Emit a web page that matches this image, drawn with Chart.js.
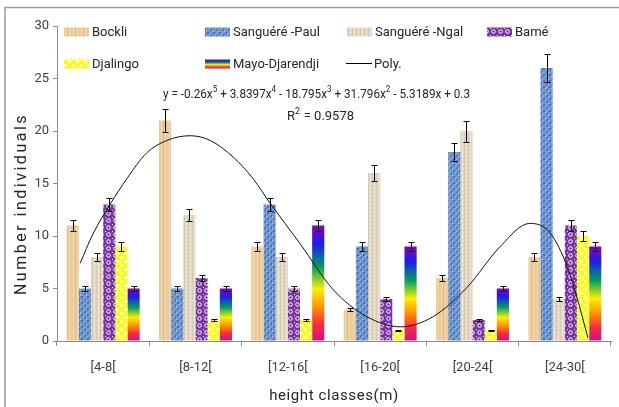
<!DOCTYPE html>
<html>
<head>
<meta charset="utf-8">
<script src="https://cdn.jsdelivr.net/npm/chart.js@4.4.0/dist/chart.umd.min.js"></script>
<style>
  html, body { margin: 0; padding: 0; background: #fff; }
  #wrap { width: 619px; height: 407px; position: relative; }
</style>
</head>
<body>
<div id="wrap"><canvas id="myChart" width="619" height="407"></canvas></div>
<script>
// data
var categories = ['[4-8[', '[8-12[', '[12-16[', '[16-20[', '[20-24[', '[24-30['];

var bockli   = [11, 21, 9, 3, 6, 8];
var sPaul    = [5, 5, 13, 9, 18, 26];
var sNgal    = [8, 12, 8, 16, 20, 4];
var bame     = [13, 6, 5, 4, 2, 11];
var djalingo = [9, 2, 2, 1, 1, 10];
var mayo     = [5, 5, 11, 9, 5, 9];

// error bar half-heights
var bockliErr   = [0.55, 1.05, 0.45, 0.15, 0.3, 0.4];
var sPaulErr    = [0.25, 0.25, 0.65, 0.45, 0.9, 1.3];
var sNgalErr    = [0.4, 0.6, 0.4, 0.8, 1.0, 0.2];
var bameErr     = [0.65, 0.3, 0.25, 0.2, 0.1, 0.55];
var djalingoErr = [0.45, 0.1, 0.1, 0.05, 0.05, 0.5];
var mayoErr     = [0.25, 0.25, 0.55, 0.45, 0.25, 0.45];

// polynomial trend line
// x in category index units (0 = centre of first class, -0.5 = y axis)
var polyX = [-0.25, -0.11, 0.07, 0.26, 0.47, 0.69, 0.94, 1.16, 1.41, 1.62, 1.81, 2.13, 2.49, 2.86, 3.22, 3.57, 3.94, 4.3, 4.62, 4.84, 5.03, 5.13, 5.25];
var polyY = [7.4, 10.2, 12.95, 15.5, 17.9, 19.1, 19.55, 19.1, 17.5, 15.5, 13.1, 9.3, 4.9, 2.3, 1.35, 2.3, 5.1, 9.0, 11.2, 10.3, 7.0, 4.2, 0.3];

var FONT = "'Liberation Sans Narrow', 'Roboto', sans-serif";

function makePattern(w, h, draw) {
	var c = document.createElement('canvas');
	c.width = w; c.height = h;
	var g = c.getContext('2d');
	draw(g, w, h);
	return g.createPattern(c, 'repeat');
}

var bockliFill = makePattern(8, 6, function(g, w, h) {
	g.fillStyle = '#eccb98'; g.fillRect(0, 0, w, h);
	g.fillStyle = '#f2d8ae'; g.fillRect(1, 0, 1, h); g.fillRect(5, 0, 1, h);
	g.fillStyle = '#e0bf8b'; g.fillRect(3, 0, 1, h);
});
var paulFill = makePattern(6, 6, function(g, w, h) {
	g.fillStyle = '#6f97d0'; g.fillRect(0, 0, w, h);
	g.fillStyle = '#4b74b4'; g.fillRect(0, 0, 2, 1); g.fillRect(3, 2, 2, 2); g.fillRect(1, 4, 1, 2);
	g.fillStyle = '#9dbbe4'; g.fillRect(2, 0, 1, 2); g.fillRect(5, 4, 1, 1); g.fillRect(0, 3, 1, 1);
});
var ngalFill = makePattern(4, 4, function(g, w, h) {
	g.fillStyle = '#e4d9c4'; g.fillRect(0, 0, w, h);
	g.fillStyle = '#d8cbb2'; g.fillRect(0, 0, 1, h); g.fillRect(0, 2, w, 1);
	g.fillStyle = '#ece4d4'; g.fillRect(2, 0, 1, h);
});
var bameFill = makePattern(7, 7, function(g, w, h) {
	g.fillStyle = '#7a33a6'; g.fillRect(0, 0, w, h);
	g.strokeStyle = '#ffffff'; g.lineWidth = 1;
	g.beginPath(); g.arc(3.5, 3.5, 1.8, 0, Math.PI * 2); g.stroke();
	g.fillStyle = '#ffffff'; g.fillRect(0, 0, 1, 1);
});
var djalingoFill = makePattern(8, 8, function(g, w, h) {
	g.fillStyle = '#ffff00'; g.fillRect(0, 0, w, h);
	g.fillStyle = '#ffffff'; g.fillRect(0, 0, 3, 3); g.fillRect(4, 4, 3, 3);
});

function rainbow(g, top, bottom) {
	var grad = g.createLinearGradient(0, top, 0, bottom);
	grad.addColorStop(0, '#8a00b0');
	grad.addColorStop(0.16, '#1c1cf0');
	grad.addColorStop(0.36, '#00a060');
	grad.addColorStop(0.55, '#f8f000');
	grad.addColorStop(0.72, '#ff8a00');
	grad.addColorStop(0.86, '#f82848');
	grad.addColorStop(1, '#d0108c');
	return grad;
}

function mayoFill(context) {
	var chart = context.chart;
	if (!chart.chartArea || context.type !== 'data') return '#c020a0';
	var y = chart.scales.y;
	return rainbow(chart.ctx, y.getPixelForValue(context.raw), y.getPixelForValue(0));
}

var series = [
	{ name: 'Bockli', data: bockli, err: bockliErr, fill: bockliFill },
	{ name: 'Sanguéré -Paul', data: sPaul, err: sPaulErr, fill: paulFill },
	{ name: 'Sanguéré -Ngal', data: sNgal, err: sNgalErr, fill: ngalFill },
	{ name: 'Bamé', data: bame, err: bameErr, fill: bameFill },
	{ name: 'Djalingo', data: djalingo, err: djalingoErr, fill: djalingoFill },
	{ name: 'Mayo-Djarendji', data: mayo, err: mayoErr, fill: mayoFill }
];

var datasets = series.map(function(s) {
	return {
		type: 'bar',
		label: s.name,
		data: s.data,
		errors: s.err,
		backgroundColor: s.fill,
		borderWidth: 0,
		barPercentage: 1,
		categoryPercentage: 0.79,
		order: 1
	};
});

// the trend line sits on the same category axis; parsing off so fractional x positions are kept
datasets.push({
	type: 'line',
	label: 'Poly.',
	parsing: false,
	data: polyX.map(function(x, i) { return { x: x, y: polyY[i] }; }),
	borderColor: '#111111',
	borderWidth: 1,
	pointRadius: 0,
	fill: false,
	cubicInterpolationMode: 'monotone',
	order: 0
});

// error bars on top of each bar
var errorBars = {
	id: 'errorBars',
	afterDatasetsDraw: function(chart) {
		var ctx = chart.ctx, y = chart.scales.y;
		ctx.save();
		ctx.strokeStyle = '#000';
		ctx.lineWidth = 1;
		chart.data.datasets.forEach(function(ds, i) {
			if (!ds.errors) return;
			chart.getDatasetMeta(i).data.forEach(function(bar, j) {
				var v = ds.data[j], e = ds.errors[j];
				var x = Math.round(bar.x) + 0.5;
				var hi = Math.round(y.getPixelForValue(v + e)) + 0.5;
				var lo = Math.round(y.getPixelForValue(v - e)) + 0.5;
				ctx.beginPath();
				ctx.moveTo(x, hi); ctx.lineTo(x, lo);
				ctx.moveTo(x - 3, hi); ctx.lineTo(x + 3, hi);
				ctx.moveTo(x - 3, lo); ctx.lineTo(x + 3, lo);
				ctx.stroke();
			});
		});
		ctx.restore();
	}
};

// legend, equation, axis titles, frame
var decorations = {
	id: 'decorations',
	afterDraw: function(chart) {
		var ctx = chart.ctx;
		ctx.save();

		// outer frame (top and left edges visible)
		ctx.strokeStyle = '#9a9a9a';
		ctx.lineWidth = 1.5;
		ctx.beginPath();
		ctx.moveTo(5, 407); ctx.lineTo(5, 7.5); ctx.lineTo(619, 7.5);
		ctx.stroke();

		ctx.font = '13px ' + FONT;
		ctx.textBaseline = 'middle';
		ctx.fillStyle = '#262626';
		var legendPos = [[64, 32], [205, 32], [347, 32], [487, 32], [64, 64], [205, 64]];
		series.forEach(function(s, i) {
			var p = legendPos[i];
			var sw = 25, sh = 9;
			if (typeof s.fill === 'function') {
				ctx.fillStyle = rainbow(ctx, p[1] - sh / 2, p[1] + sh / 2);
			} else {
				ctx.fillStyle = s.fill;
			}
			ctx.fillRect(p[0], p[1] - sh / 2, sw, sh);
			ctx.fillStyle = '#262626';
			ctx.fillText(s.name, p[0] + sw + 3, p[1] + 1);
		});
		ctx.strokeStyle = '#000';
		ctx.lineWidth = 1;
		ctx.beginPath();
		ctx.moveTo(346, 63.5); ctx.lineTo(372, 63.5);
		ctx.stroke();
		ctx.fillText('Poly.', 374, 65);

		// trend line equation, squeezed to the width it has in the picture
		var parts = [['y = -0.26x', 0], ['5', 1], [' + 3.8397x', 0], ['4', 1], [' - 18.795x', 0], ['3', 1],
			[' + 31.796x', 0], ['2', 1], [' - 5.3189x + 0.3', 0]];
		var total = 0;
		parts.forEach(function(pt) {
			ctx.font = (pt[1] ? '9px ' : '13px ') + FONT;
			total += ctx.measureText(pt[0]).width;
		});
		ctx.save();
		ctx.translate(163, 0);
		ctx.scale(307 / total, 1);
		var x = 0;
		parts.forEach(function(pt) {
			ctx.font = (pt[1] ? '9px ' : '13px ') + FONT;
			ctx.fillText(pt[0], x, pt[1] ? 90 : 95);
			x += ctx.measureText(pt[0]).width;
		});
		ctx.restore();
		ctx.font = '13px ' + FONT;
		ctx.fillText('R', 287, 117);
		var rw = ctx.measureText('R').width;
		ctx.font = '9px ' + FONT;
		ctx.fillText('2', 287 + rw, 112);
		ctx.font = '13px ' + FONT;
		ctx.fillText(' = 0.9578', 287 + rw + ctx.measureText('2').width * 0.75, 117);

		// axis titles
		ctx.textAlign = 'center';
		ctx.font = '15px ' + FONT;
		ctx.letterSpacing = '0.6px';
		ctx.fillText('height classes(m)', 334, 396);
		ctx.translate(22, 204);
		ctx.rotate(-Math.PI / 2);
		ctx.font = '16px ' + FONT;
		ctx.letterSpacing = '2.5px';
		ctx.fillText('Number individuals', 0, 0);
		ctx.restore();
	}
};

var ctx = document.getElementById('myChart').getContext('2d');
var chart = new Chart(ctx, {
	data: {
		labels: categories,
		datasets: datasets
	},
	options: {
		responsive: false,
		animation: false,
		layout: { padding: { left: 0, top: 26, right: 8, bottom: 0 } },
		plugins: {
			legend: { display: false },
			tooltip: { enabled: false }
		},
		scales: {
			x: {
				type: 'category',
				offset: true,
				afterFit: function(scale) { scale.height = 66; },
				grid: { drawOnChartArea: false, offset: true, tickLength: 5, color: '#8c8c8c' },
				border: { color: '#8c8c8c', width: 1 },
				ticks: { color: '#404040', padding: 14, font: { size: 13, family: FONT } }
			},
			y: {
				min: 0,
				max: 30,
				afterFit: function(scale) { scale.width = 57; },
				grid: { drawOnChartArea: false, tickLength: 4, color: '#8c8c8c' },
				border: { color: '#8c8c8c', width: 1 },
				ticks: { stepSize: 5, color: '#404040', padding: 4, font: { size: 13, family: FONT } }
			}
		}
	},
	plugins: [errorBars, decorations]
});
</script>
</body>
</html>
